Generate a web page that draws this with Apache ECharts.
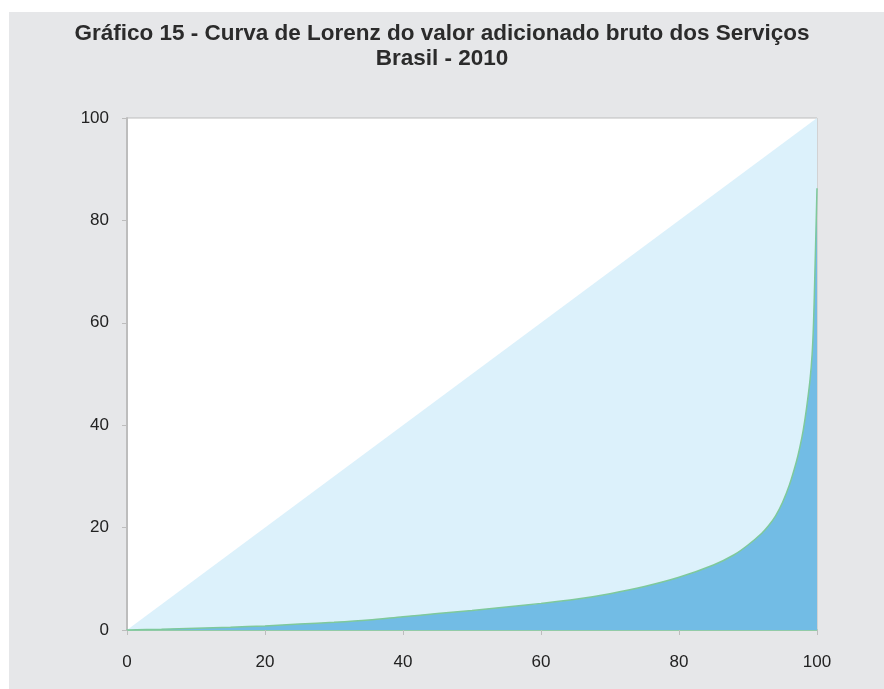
<!DOCTYPE html>
<html style="height: 100%">
<head>
    <meta charset="utf-8">
    <script src="https://cdn.jsdelivr.net/npm/echarts@6/dist/echarts.min.js"></script>
</head>
<body style="height: 100%; margin: 0; background: #ffffff">
    <div id="container" style="width: 884px; height: 689px"></div>
    <script type="text/javascript">
        var titleText = 'Gráfico 15 - Curva de Lorenz do valor adicionado bruto dos Serviços\nBrasil - 2010';

        // linha de igualdade
        var equalX = [0, 100];
        var equalY = [0, 100];

        // curva de Lorenz (% acumulado de municípios x % acumulado do VAB)
        var lorenzX = [0, 5, 10, 15, 20, 25, 30, 35, 40, 45, 50, 55, 60, 65, 70, 75, 80, 85, 88, 90, 92, 93, 94, 95, 96, 97, 97.5, 98, 98.5, 99, 99.3, 99.5, 99.7, 99.85, 100];
        var lorenzY = [0, 0.15, 0.35, 0.55, 0.8, 1.15, 1.5, 1.95, 2.6, 3.2, 3.8, 4.5, 5.2, 6.0, 7.1, 8.5, 10.3, 12.7, 14.7, 16.6, 18.9, 20.4, 22.3, 24.9, 28.3, 32.8, 35.6, 39, 43.5, 49, 54, 60, 70, 78, 86.3];

        function pairs(xs, ys) {
            return xs.map(function (x, i) { return [x, ys[i]]; });
        }

        var myChart = echarts.init(document.getElementById('container'));

        var option = {
            backgroundColor: '#ffffff',
            animation: false,
            graphic: [{
                type: 'rect',
                left: 9, top: 12,
                shape: { width: 875, height: 677 },
                style: { fill: '#e6e7e9' },
                z: -10
            }],
            title: {
                text: titleText,
                left: 'center',
                top: 16,
                textStyle: {
                    fontFamily: 'Liberation Sans',
                    fontWeight: 'bold',
                    fontSize: 22.5,
                    lineHeight: 25,
                    color: '#2b2b2b'
                }
            },
            grid: {
                left: 127, right: 67, top: 118, bottom: 59,
                show: true,
                backgroundColor: '#ffffff',
                borderColor: '#bdbdbd',
                borderWidth: 1
            },
            xAxis: {
                type: 'value',
                min: 0, max: 100, interval: 20,
                splitLine: { show: false },
                axisLine: { show: true, lineStyle: { color: '#7ec99b', width: 1.5 } },
                axisTick: { show: true, length: 5, lineStyle: { color: '#bdbdbd' } },
                axisLabel: { color: '#222', fontSize: 17, fontFamily: 'Liberation Sans', margin: 24 }
            },
            yAxis: {
                type: 'value',
                min: 0, max: 100, interval: 20,
                splitLine: { show: false },
                axisLine: { show: true, lineStyle: { color: '#bdbdbd', width: 2 } },
                axisTick: { show: true, length: 5, lineStyle: { color: '#bdbdbd' } },
                axisLabel: { color: '#222', fontSize: 17, fontFamily: 'Liberation Sans', margin: 18 }
            },
            series: [{
                type: 'line',
                data: pairs(equalX, equalY),
                symbol: 'none',
                lineStyle: { width: 0 },
                areaStyle: { color: '#dcf1fb', opacity: 1 },
                silent: true,
                z: 1
            }, {
                type: 'line',
                data: pairs(lorenzX, lorenzY),
                symbol: 'none',
                smooth: 0.3,
                lineStyle: { color: '#7ec99b', width: 1.5 },
                areaStyle: { color: '#72bce5', opacity: 1 },
                silent: true,
                z: 2
            }]
        };

        myChart.setOption(option);
    </script>
</body>
</html>
